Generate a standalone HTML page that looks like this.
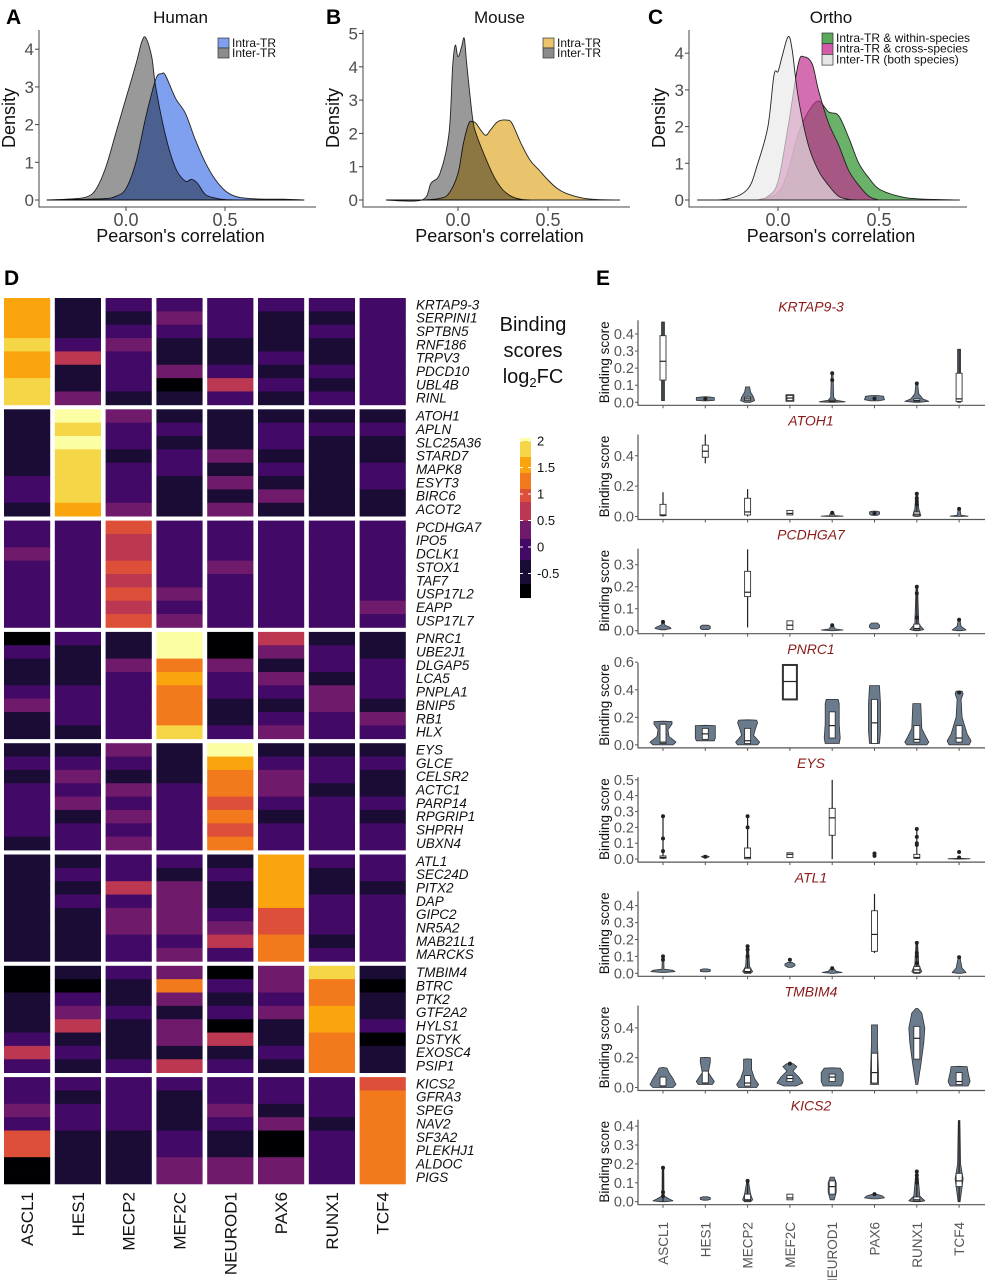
<!DOCTYPE html>
<html><head><meta charset="utf-8">
<style>
html,body{margin:0;padding:0;background:#fff;}
svg{display:block;font-family:"Liberation Sans",sans-serif;}
</style></head>
<body>
<svg id="fig" width="988" height="1280" viewBox="0 0 988 1280" xmlns="http://www.w3.org/2000/svg">
<g font-weight="bold" font-size="21" fill="#000">
<text x="6" y="24">A</text>
<text x="326" y="24">B</text>
<text x="648" y="24">C</text>
<text x="4" y="285">D</text>
<text x="596" y="285">E</text>
</g>
<g id="dens"></g>
<g id="heat"></g>
<g id="viol"></g>
</svg>
<script>
// ---------- Density data (A, B, C) ----------
const humanInterX = [-0.4,-0.3,-0.2,-0.15,-0.1,-0.05,0,0.05,0.08,0.1,0.13,0.15,0.2,0.25,0.3,0.33,0.36,0.4,0.45,0.5,0.6,0.9];
const humanInterY = [0,0.02,0.08,0.3,0.9,1.8,2.7,3.6,4.2,4.3,3.8,3.0,1.7,0.85,0.5,0.55,0.45,0.15,0.05,0.01,0,0];
const humanIntraX = [-0.4,-0.2,-0.1,-0.05,0,0.05,0.1,0.15,0.18,0.2,0.25,0.3,0.35,0.4,0.45,0.5,0.55,0.6,0.7,0.8,0.9];
const humanIntraY = [0,0.02,0.04,0.1,0.3,1.0,2.2,3.2,3.35,3.3,2.7,2.3,1.6,1.0,0.55,0.25,0.1,0.05,0.02,0.02,0];
const mouseInterX = [-0.4,-0.2,-0.15,-0.1,-0.05,-0.03,-0.015,0.0,0.02,0.035,0.05,0.08,0.1,0.15,0.2,0.25,0.3,0.35,0.4];
const mouseInterY = [0,0,0.5,0.8,2.0,4.0,4.65,4.3,4.6,4.85,4.0,2.5,2.0,1.3,0.7,0.3,0.1,0.02,0];
const mouseIntraX = [-0.4,-0.2,-0.1,-0.05,0,0.03,0.06,0.08,0.1,0.15,0.18,0.22,0.27,0.3,0.35,0.4,0.45,0.5,0.55,0.6,0.7,0.8,0.9];
const mouseIntraY = [0,0,0.05,0.2,0.8,1.7,2.3,2.35,2.3,1.95,2.1,2.35,2.4,2.3,1.7,1.2,0.9,0.6,0.35,0.2,0.05,0.01,0];
const orthoWithinX = [-0.1,0,0.05,0.1,0.15,0.2,0.25,0.3,0.35,0.4,0.45,0.5,0.6,0.7,0.9];
const orthoWithinY = [0,0.2,0.8,1.8,2.4,2.7,2.4,2.3,1.7,1.0,0.6,0.3,0.1,0.03,0];
const orthoCrossX = [-0.1,-0.05,0,0.05,0.1,0.13,0.17,0.2,0.25,0.3,0.35,0.4,0.45,0.5];
const orthoCrossY = [0,0.1,0.5,2.0,3.7,3.9,3.7,3.0,2.1,1.5,0.8,0.4,0.1,0];
const orthoInterX = [-0.4,-0.25,-0.15,-0.1,-0.05,-0.02,0,0.02,0.05,0.07,0.1,0.15,0.2,0.25,0.3,0.35,0.4];
const orthoInterY = [0,0.03,0.3,1.0,2.0,3.4,3.5,3.9,4.45,4.1,2.8,1.5,0.8,0.4,0.1,0.02,0];
const densXTicks = [0.0, 0.5];
const densXTickLabels = ["0.0","0.5"];
const humanYTicks = [0,1,2,3,4];
const mouseYTicks = [0,1,2,3,4,5];
const orthoYTicks = [0,1,2,3,4];

// ---------- Heatmap data ----------
const trNames = ["ASCL1","HES1","MECP2","MEF2C","NEUROD1","PAX6","RUNX1","TCF4"];
const geneBlocks = [
 ["KRTAP9-3","SERPINI1","SPTBN5","RNF186","TRPV3","PDCD10","UBL4B","RINL"],
 ["ATOH1","APLN","SLC25A36","STARD7","MAPK8","ESYT3","BIRC6","ACOT2"],
 ["PCDHGA7","IPO5","DCLK1","STOX1","TAF7","USP17L2","EAPP","USP17L7"],
 ["PNRC1","UBE2J1","DLGAP5","LCA5","PNPLA1","BNIP5","RB1","HLX"],
 ["EYS","GLCE","CELSR2","ACTC1","PARP14","RPGRIP1","SHPRH","UBXN4"],
 ["ATL1","SEC24D","PITX2","DAP","GIPC2","NR5A2","MAB21L1","MARCKS"],
 ["TMBIM4","BTRC","PTK2","GTF2A2","HYLS1","DSTYK","EXOSC4","PSIP1"],
 ["KICS2","GFRA3","SPEG","NAV2","SF3A2","PLEKHJ1","ALDOC","PIGS"]
];
const heatCodes = [
 ["77787788","11124113","21232221","23211301","22211242","21112121","21211212","22222222"],
 ["11111221","98988887","32212223","12122111","11131313","12212131","12111111","12112211"],
 ["22322222","22222222","54454545","22222323","22232222","22222222","22222222","22222232"],
 ["02112311","21112221","11322222","99676668","00322112","43132123","12213322","11222132"],
 ["12122221","12323122","32132323","11122222","97665656","12332122","12212222","12112122"],
 ["11111111","12121111","22423322","21333323","12112342","77775566","21122212","22122222"],
 ["00111242","10234121","21121112","36313314","02120412","33231121","86677666","10112011"],
 ["22325500","21221111","22221111","21112233","22321133","22130033","22212222","56666666"]
];
const levelValues = [-0.9,-0.5,0,0.3,0.7,1.0,1.25,1.55,1.85,2.1];
const cbarTicks = [2,1.5,1,0.5,0,-0.5];
const cbarTickLabels = ["2","1.5","1","0.5","0","-0.5"];

// ---------- Violin panel data (E) ----------
const violinGenes = ["KRTAP9-3","ATOH1","PCDHGA7","PNRC1","EYS","ATL1","TMBIM4","KICS2"];
const violinYMax = [0.48,0.54,0.373,0.595,0.517,0.485,0.55,0.434];
const violinTicks = [[0,0.1,0.2,0.3,0.4],[0,0.2,0.4],[0,0.1,0.2,0.3],[0,0.2,0.4,0.6],[0,0.1,0.2,0.3,0.4,0.5],[0,0.1,0.2,0.3,0.4],[0,0.2,0.4],[0,0.1,0.2,0.3,0.4]];
const p1 = [
 {w:[0.01,0.47],b:[0.13,0.24,0.39],vp:[[0.01,1.5],[0.47,1.5]]},
 {vp:[[0.008,2],[0.012,9],[0.028,9],[0.032,2]],o:[0.02]},
 {vp:[[0,3],[0.01,7],[0.03,6],[0.06,3],[0.09,2]],b:[0.01,0.02,0.03]},
 {vp:[[0.005,4],[0.045,4]],b:[0.01,0.025,0.04]},
 {vp:[[0,1],[0.003,13],[0.012,4],[0.03,1.5],[0.17,0.8]],b:[0.003,0.006,0.012],o:[0.13,0.17]},
 {vp:[[0.008,4],[0.015,10],[0.035,9],[0.04,3]],o:[0.022]},
 {vp:[[0,2],[0.005,12],[0.02,6],[0.05,2],[0.11,0.8]],b:[0.004,0.01,0.02],o:[0.11]},
 {w:[0,0.31],b:[0.005,0.02,0.17],vp:[[0,1.5],[0.31,1.5]]}];
const p2 = [
 {w:[0,0.16],b:[0.005,0.01,0.08]},
 {w:[0.35,0.54],b:[0.39,0.43,0.47]},
 {w:[0,0.18],b:[0.01,0.03,0.12]},
 {b:[0.01,0.02,0.04]},
 {vp:[[0,1],[0.002,11],[0.006,3],[0.03,0.8]],o:[0.025]},
 {vp:[[0.008,3],[0.015,5],[0.03,5],[0.035,2]],o:[0.02]},
 {w:[0,0.15],vp:[[0,2],[0.005,4],[0.05,2],[0.15,0.8]],b:[0.005,0.015,0.03],o:[0.08,0.1,0.12,0.15]},
 {vp:[[0,1],[0.002,9],[0.008,2],[0.05,0.8]],o:[0.05]}];
const p3 = [
 {vp:[[0.004,2],[0.01,8],[0.016,7],[0.025,2],[0.04,0.8]],o:[0.04]},
 {vp:[[0.005,3],[0.01,5],[0.02,5],[0.025,3]]},
 {w:[0.015,0.37],b:[0.155,0.175,0.27]},
 {b:[0.005,0.025,0.045]},
 {vp:[[0,1],[0.003,11],[0.008,3],[0.025,0.8]],o:[0.025]},
 {vp:[[0.008,3],[0.015,5],[0.025,5],[0.035,3]]},
 {w:[0,0.2],vp:[[0,2],[0.005,7],[0.03,2],[0.2,0.8]],b:[0.004,0.01,0.03],o:[0.06,0.17,0.2]},
 {vp:[[0,2],[0.003,7],[0.02,2],[0.05,0.8]],o:[0.05]}];
const p4 = [
 {vp:[[0,10],[0.02,13],[0.06,6],[0.11,5],[0.15,9],[0.17,9],[0.172,0]],b:[0.01,0.02,0.15]},
 {vp:[[0.03,9],[0.05,10],[0.14,10],[0.142,0]],b:[0.04,0.08,0.12]},
 {vp:[[0,10],[0.02,12],[0.07,6],[0.12,8],[0.16,10],[0.18,9],[0.182,0]],b:[0.01,0.03,0.12]},
 {b:[0.33,0.46,0.58],bw:7},
 {vp:[[0.01,7],[0.05,8],[0.15,7],[0.3,7],[0.33,6]],b:[0.05,0.14,0.24]},
 {vp:[[0.01,5],[0.1,6],[0.3,6],[0.43,5]],b:[0.01,0.16,0.33]},
 {vp:[[0,10],[0.02,12],[0.06,9],[0.12,5],[0.3,4]],b:[0.02,0.04,0.14]},
 {vp:[[0,10],[0.03,12],[0.08,8],[0.2,3],[0.33,2],[0.37,4],[0.39,3]],b:[0.02,0.05,0.14],o:[0.38]}];
const p5 = [
 {w:[0,0.27],b:[0.005,0.01,0.02],o:[0.05,0.13,0.27]},
 {vp:[[0.01,2],[0.015,4],[0.02,2]],o:[0.015]},
 {w:[0,0.27],b:[0.002,0.01,0.07],o:[0.2,0.27]},
 {b:[0.01,0.03,0.04]},
 {w:[0,0.5],b:[0.15,0.26,0.32]},
 {o:[0.02,0.035]},
 {w:[0,0.19],b:[0.005,0.01,0.03],o:[0.09,0.1,0.14,0.19]},
 {vp:[[0,1],[0.002,11],[0.005,1]],o:[0.01,0.045]}];
const p6 = [
 {vp:[[0.005,2],[0.01,12],[0.018,10],[0.025,1],[0.1,0.8]],o:[0.08,0.1]},
 {vp:[[0.008,2],[0.012,5],[0.022,5],[0.026,2]]},
 {w:[0,0.16],vp:[[0,3],[0.01,5],[0.04,2],[0.16,0.8]],b:[0.005,0.01,0.03],o:[0.1,0.14,0.16]},
 {vp:[[0.035,2],[0.045,5],[0.055,5],[0.065,2]],o:[0.08]},
 {vp:[[0,1],[0.005,10],[0.012,4],[0.03,1]],o:[0.03]},
 {w:[0.12,0.47],b:[0.13,0.23,0.37]},
 {w:[0,0.18],vp:[[0,3],[0.01,5],[0.05,2],[0.18,0.8]],b:[0.005,0.02,0.04],o:[0.06,0.1,0.12,0.18]},
 {vp:[[0,2],[0.005,7],[0.03,3],[0.095,0.8]],o:[0.095]}];
const p7 = [
 {vp:[[0,10],[0.02,13],[0.06,10],[0.1,6],[0.13,4],[0.135,0]],b:[0.01,0.01,0.07]},
 {vp:[[0.02,7],[0.04,9],[0.1,3],[0.17,5],[0.2,5],[0.202,0]],b:[0.03,0.03,0.11]},
 {vp:[[0,9],[0.02,11],[0.06,7],[0.12,4],[0.19,4],[0.192,0]],b:[0.01,0.03,0.08]},
 {vp:[[0.01,6],[0.03,13],[0.07,9],[0.11,3],[0.14,7],[0.16,3]],b:[0.04,0.06,0.08],o:[0.16]},
 {vp:[[0.01,9],[0.04,11],[0.1,11],[0.13,8],[0.132,0]],b:[0.04,0.07,0.09]},
 {vp:[[0.02,4],[0.1,4],[0.3,3],[0.42,3]],b:[0.03,0.1,0.23]},
 {vp:[[0.02,1],[0.15,4],[0.3,7],[0.4,8],[0.5,5],[0.53,1]],b:[0.19,0.33,0.41]},
 {vp:[[0.01,9],[0.04,11],[0.1,9],[0.14,8],[0.142,0]],b:[0.02,0.04,0.1]}];
const p8 = [
 {w:[0,0.18],vp:[[0,2],[0.005,10],[0.015,6],[0.03,1],[0.18,0.8]],o:[0.03,0.05,0.18]},
 {vp:[[0.008,2],[0.012,5],[0.022,5],[0.026,2]]},
 {w:[0,0.11],vp:[[0,3],[0.01,5],[0.04,3],[0.11,0.8]],b:[0.005,0.01,0.04],o:[0.11]},
 {b:[0.01,0.02,0.04]},
 {vp:[[0.01,2],[0.05,4],[0.1,4],[0.13,2]],b:[0.04,0.08,0.11]},
 {vp:[[0.015,3],[0.02,10],[0.03,8],[0.04,2]],o:[0.04]},
 {w:[0,0.16],vp:[[0,3],[0.005,8],[0.03,3],[0.16,0.8]],b:[0.003,0.01,0.025],o:[0.1,0.12,0.14,0.16]},
 {w:[0,0.43],vp:[[0,1],[0.08,3],[0.12,4],[0.2,1.5],[0.43,0.8]],b:[0.08,0.11,0.15]}];
const violinData = [p1,p2,p3,p4,p5,p6,p7,p8];

const NS = "http://www.w3.org/2000/svg";
function mk(parent, tag, attrs, text){
  const e = document.createElementNS(NS, tag);
  for (const k in attrs) e.setAttribute(k, attrs[k]);
  if (text !== undefined) e.textContent = text;
  parent.appendChild(e);
  return e;
}
function smoothPath(pts){
  let d = "M"+pts[0][0].toFixed(1)+","+pts[0][1].toFixed(1);
  for (let i=0;i<pts.length-1;i++){
    const p0=pts[Math.max(0,i-1)], p1=pts[i], p2=pts[i+1], p3=pts[Math.min(pts.length-1,i+2)];
    const c1=[p1[0]+(p2[0]-p0[0])/6, p1[1]+(p2[1]-p0[1])/6];
    const c2=[p2[0]-(p3[0]-p1[0])/6, p2[1]-(p3[1]-p1[1])/6];
    d += " C"+c1[0].toFixed(1)+","+c1[1].toFixed(1)+" "+c2[0].toFixed(1)+","+c2[1].toFixed(1)+" "+p2[0].toFixed(1)+","+p2[1].toFixed(1);
  }
  return d;
}

// ---------- Density panels ----------
const dens = document.getElementById("dens");
const densPanels = [
 {id:"human", title:"Human", ox:126, sx:198, oy:200, sy:37.7, axX:39, axEnd:316, yt:humanYTicks,
  series:[{x:humanIntraX,y:humanIntraY,fill:"#7f9fef",op:1,blend:"normal",name:"intra-tr-density"},
          {x:humanInterX,y:humanInterY,fill:"#999999",op:1,blend:"multiply",name:"inter-tr-density"}],
  legend:{x:218,y:38,items:[["Intra-TR","#7f9fef"],["Inter-TR","#8c8c8c"]]}},
 {id:"mouse", title:"Mouse", ox:458, sx:180, oy:200, sy:33.3, axX:363, axEnd:630, yt:mouseYTicks,
  series:[{x:mouseIntraX,y:mouseIntraY,fill:"#e9c46c",op:1,blend:"normal",name:"intra-tr-density"},
          {x:mouseInterX,y:mouseInterY,fill:"#999999",op:1,blend:"multiply",name:"inter-tr-density"}],
  legend:{x:543,y:38,items:[["Intra-TR","#e9c46c"],["Inter-TR","#8c8c8c"]]}},
 {id:"ortho", title:"Ortho", ox:778, sx:202, oy:200, sy:36.7, axX:689, axEnd:967, yt:orthoYTicks,
  series:[{x:orthoWithinX,y:orthoWithinY,fill:"#5aa85a",op:0.9,blend:"normal",name:"within-species-density"},
          {x:orthoCrossX,y:orthoCrossY,fill:"#c2308e",op:0.7,blend:"normal",name:"cross-species-density"},
          {x:orthoInterX,y:orthoInterY,fill:"#e8e8e8",op:0.65,blend:"normal",name:"inter-tr-both-density"}],
  legend:{x:822,y:33,items:[["Intra-TR & within-species","#5aa85a"],["Intra-TR & cross-species","#d45aaa"],["Inter-TR (both species)","#e6e6e6"]]}}
];
densPanels.forEach(P=>{
  const g = mk(dens,"g",{});
  
  
  const xs = v => P.ox + v*P.sx, ys = v => P.oy - v*P.sy;
  const cx = (P.axX + P.axEnd)/2 + 3;
  const t = mk(g,"text",{x:cx,y:23,"text-anchor":"middle","font-size":17,fill:"#111"},P.title);
  
  
  P.series.forEach(s=>{
    const pts = s.x.map((v,i)=>[xs(v),ys(s.y[i])]);
    let d = smoothPath(pts) + " L"+xs(s.x[s.x.length-1]).toFixed(1)+","+ys(0)+" L"+xs(s.x[0]).toFixed(1)+","+ys(0)+" Z";
    const p = mk(g,"path",{d:d,fill:s.fill,"fill-opacity":s.op,stroke:"#222","stroke-width":0.9,style:"mix-blend-mode:"+s.blend});
    
    
  });
  const ya = mk(g,"path",{d:"M"+P.axX+",30 V207 H"+P.axEnd,fill:"none",stroke:"#444","stroke-width":1});
  
  
  P.yt.forEach(v=>{
    mk(g,"line",{x1:P.axX-4,x2:P.axX,y1:ys(v),y2:ys(v),stroke:"#444"});
    const tl = mk(g,"text",{x:P.axX-5,y:ys(v)+6,"text-anchor":"end","font-size":17,fill:"#4d4d4d"},String(v));
    
    
  });
  densXTicks.forEach((v,i)=>{
    mk(g,"line",{x1:xs(v),x2:xs(v),y1:207,y2:211,stroke:"#444"});
    const tl = mk(g,"text",{x:xs(v),y:226,"text-anchor":"middle","font-size":18,fill:"#4d4d4d"},densXTickLabels[i]);
    
    
  });
  const yl = mk(g,"text",{x:0,y:0,transform:"translate("+(P.axX-24)+",118) rotate(-90)","text-anchor":"middle","font-size":18,fill:"#111"},"Density");
  
  
  const xl = mk(g,"text",{x:cx,y:242,"text-anchor":"middle","font-size":18,fill:"#111"},"Pearson's correlation");
  
  
  const lg = mk(g,"g",{});
  
  
  P.legend.items.forEach((it,i)=>{
    const bh = P.legend.items.length===3 ? 10.7 : 10;
    const r = mk(lg,"rect",{x:P.legend.x,y:P.legend.y+i*bh,width:11,height:bh,fill:it[1],stroke:"#333","stroke-width":0.7});
    
    
    const tx = mk(lg,"text",{x:P.legend.x+14,y:P.legend.y+i*bh+9,"font-size":12,fill:"#111"},it[0]);
    
    
  });
});

// ---------- Heatmap ----------
const heat = document.getElementById("heat");
function heatColor(v){
  if (v < -0.7) return "#000004";
  if (v < -0.25) return "#1a0c35";
  if (v < 0.15) return "#420a66";
  if (v < 0.5) return "#701a6c";
  if (v < 0.85) return "#bc3752";
  if (v < 1.1) return "#de4f3a";
  if (v < 1.4) return "#f27a1d";
  if (v < 1.7) return "#fba50e";
  if (v < 2.0) return "#f5d646";
  return "#fcfea4";
}
const hx0 = 4, hColStep = 50.8, hColW = 46.2, hy0 = 298, hBlockStep = 111.3, hRowH = 13.35;
geneBlocks.forEach((genes,b)=>{
  const bg = mk(heat,"g",{});
  
  
  trNames.forEach((tr,c)=>{
    const codes = heatCodes[b][c];
    for (let r=0;r<genes.length;r++){
      const v = levelValues[+codes[r]];
      const rc = mk(bg,"rect",{x:hx0+c*hColStep,y:(hy0+b*hBlockStep+r*hRowH).toFixed(2),width:hColW,height:(hRowH+0.4).toFixed(2),fill:heatColor(v)});
      
      
    }
  });
  genes.forEach((gname,r)=>{
    const t = mk(bg,"text",{x:416,y:(hy0+b*hBlockStep+r*hRowH+hRowH/2+4.6).toFixed(1),"font-size":13.5,"font-style":"italic",fill:"#111"},gname);
    
    
  });
});
trNames.forEach((tr,c)=>{
  const x = hx0 + c*hColStep + hColW/2 + 6;
  const t = mk(heat,"text",{x:0,y:0,transform:"translate("+x+",1192) rotate(-90)","text-anchor":"end","font-size":17,fill:"#111"},tr);
  
  
});
const cb = mk(heat,"g",{});


const cbTitle = mk(cb,"text",{x:533,y:331,"text-anchor":"middle","font-size":20,fill:"#111"});


mk(cbTitle,"tspan",{x:533,dy:0},"Binding");
mk(cbTitle,"tspan",{x:533,dy:26},"scores");
mk(cbTitle,"tspan",{x:533,dy:26},"log");
mk(cbTitle,"tspan",{"font-size":13,dy:4},"2");
mk(cbTitle,"tspan",{dy:-4},"FC");
const cbY = v => 441 + (2 - v)*53;
for (let py=438; py<598; py++){
  const v = 2 - (py + 0.5 - 441)/53;
  mk(cb,"rect",{x:520,y:py,width:11,height:1.05,fill:heatColor(v)});
}
cbarTicks.forEach((v,i)=>{
  mk(cb,"line",{x1:520,x2:523,y1:cbY(v),y2:cbY(v),stroke:"#fff"});
  mk(cb,"line",{x1:528,x2:531,y1:cbY(v),y2:cbY(v),stroke:"#fff"});
  const tl = mk(cb,"text",{x:537,y:cbY(v)+4.5,"font-size":13,fill:"#111"},cbarTickLabels[i]);
  
  
});

// ---------- Violin panels ----------
const viol = document.getElementById("viol");
const vAxX = 638, vAxEnd = 985, vCx0 = 663, vCxStep = 42.3, vZero0 = 402.3, vStep = 114.2, vH = 82;
violinGenes.forEach((gene,k)=>{
  const g = mk(viol,"g",{});
  
  
  const zero = vZero0 + k*vStep;
  const ys = v => zero - v/violinYMax[k]*vH;
  const cx = i => vCx0 + i*vCxStep;
  const tt = mk(g,"text",{x:811,y:zero-91,"text-anchor":"middle","font-size":14,"font-style":"italic",fill:"#8b1a1a"},gene);
  
  
  const ax = mk(g,"path",{d:"M"+vAxX+","+(zero-vH)+" V"+(zero+3)+" H"+vAxEnd,fill:"none",stroke:"#555","stroke-width":1.2});
  
  
  violinTicks[k].forEach(v=>{
    mk(g,"line",{x1:vAxX-3,x2:vAxX,y1:ys(v),y2:ys(v),stroke:"#555"});
    const tl = mk(g,"text",{x:vAxX-4,y:ys(v)+5,"text-anchor":"end","font-size":14.5,fill:"#555"},v.toFixed(1));
    
    
  });
  const yl = mk(g,"text",{x:0,y:0,transform:"translate(609,"+(zero-40)+") rotate(-90)","text-anchor":"middle","font-size":13.5,fill:"#111"},"Binding score");
  
  
  violinData[k].forEach((it,i)=>{
    const x = cx(i);
    mk(g,"line",{x1:x,x2:x,y1:zero+3,y2:zero+6,stroke:"#555"});
    if (it.vp){
      const right = it.vp.map(p=>[x+p[1], ys(p[0])]);
      const left = it.vp.slice().reverse().map(p=>[x-p[1], ys(p[0])]);
      let d = "M"+right.map(p=>p[0].toFixed(1)+","+p[1].toFixed(1)).join(" L")+" L"+left.map(p=>p[0].toFixed(1)+","+p[1].toFixed(1)).join(" L")+" Z";
      const vp = mk(g,"path",{d:d,fill:"#6b7b8e",stroke:"#333","stroke-width":0.8,"stroke-linejoin":"round"});
      
      
    }
    if (it.w){
      const wl = mk(g,"line",{x1:x,x2:x,y1:ys(it.w[0]),y2:ys(it.w[1]),stroke:"#222","stroke-width":1.2});
      
      
    }
    if (it.b){
      const bw = it.bw || 3;
      const top = ys(it.b[2]), bot = ys(it.b[0]);
      const bx = mk(g,"rect",{x:x-bw,y:top,width:bw*2,height:Math.max(1.5,bot-top),fill:"#fff",stroke:"#333","stroke-width":bw>5?2:0.9});
      
      
      mk(g,"line",{x1:x-bw,x2:x+bw,y1:ys(it.b[1]),y2:ys(it.b[1]),stroke:"#222","stroke-width":1.2});
    }
    (it.o||[]).forEach(v=>{
      const c = mk(g,"circle",{cx:x,cy:ys(v),r:2,fill:"#222"});
      
      
    });
  });
});
trNames.forEach((tr,i)=>{
  const t = mk(viol,"text",{x:0,y:0,transform:"translate("+(vCx0+i*vCxStep+5)+",1222) rotate(-90)","text-anchor":"end","font-size":13.5,fill:"#555"},tr);
  
  
});
</script>
</body></html>
